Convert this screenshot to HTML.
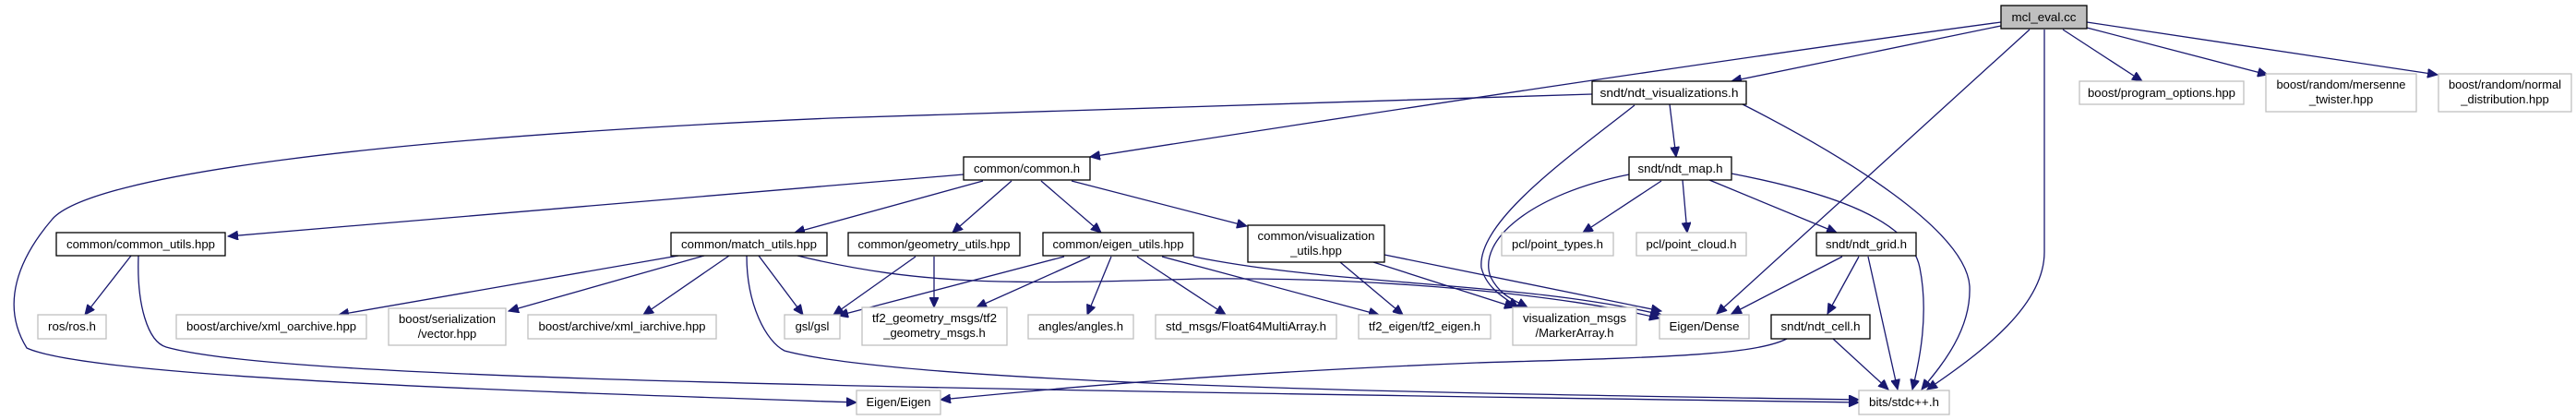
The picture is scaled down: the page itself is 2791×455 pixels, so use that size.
<!DOCTYPE html>
<html><head><meta charset="utf-8"><style>
html,body{margin:0;padding:0;background:#fff;}
svg{display:block;}
text{font-family:"Liberation Sans",Arial,sans-serif;font-size:13px;fill:#000;}
.e{fill:none;stroke:#191970;stroke-width:1.3;}
.d{fill:#fff;stroke:#000;stroke-width:1.3;}
.x{fill:#fff;stroke:#bfbfbf;stroke-width:1.3;}
</style></head><body>
<svg width="2791" height="455" viewBox="0 0 2791 455" xmlns="http://www.w3.org/2000/svg">
<defs>
<marker id="a" markerUnits="userSpaceOnUse" markerWidth="12" markerHeight="10" refX="11" refY="5" orient="auto">
<path d="M0,0 L11,5 L0,10 Z" fill="#191970" stroke="#191970"/>
</marker>
</defs>
<g marker-end="url(#a)">
<!-- mcl edges -->
<path class="e" d="M2168,28 L1876,88"/>
<path class="e" d="M2168,24 C1900,60 1500,120 1181,170"/>
<path class="e" d="M2199,32 L1860,340"/>
<path class="e" d="M2215,32 L2215,273 C2215,330 2150,380 2088,422"/>
<path class="e" d="M2235,32 L2321,88"/>
<path class="e" d="M2261,30 L2457,81"/>
<path class="e" d="M2261,24 L2641,81"/>
<!-- ndt_vis -->
<path class="e" d="M1725,102 L900,128 C400,150 100,190 57,237 C20,280 0,330 29,377 C100,410 600,425 928,436"/>
<path class="e" d="M1809,113 L1816,170"/>
<path class="e" d="M1771,114 C1700,170 1600,240 1605,290 C1610,310 1625,320 1645,333"/>
<path class="e" d="M1888,113 C2000,170 2130,250 2134,310 C2136,360 2100,400 2082,422"/>
<!-- ndt_map -->
<path class="e" d="M1765,189 C1660,210 1600,260 1615,300 C1625,320 1640,325 1655,333"/>
<path class="e" d="M1800,196 L1715,252"/>
<path class="e" d="M1823,195 L1828,252"/>
<path class="e" d="M1852,195 L1990,252"/>
<path class="e" d="M1876,188 C1990,210 2070,240 2080,290 C2090,340 2080,390 2072,422"/>
<!-- ndt_grid -->
<path class="e" d="M1996,278 L1876,340"/>
<path class="e" d="M2014,278 L1980,340"/>
<path class="e" d="M2024,278 L2056,422"/>
<!-- ndt_cell -->
<path class="e" d="M1986,367 L2046,422"/>
<path class="e" d="M1936,367 C1900,385 1800,387 1600,393 C1300,405 1100,425 1019,433"/>
<!-- common.h -->
<path class="e" d="M1044,189 L247,256"/>
<path class="e" d="M1065,196 L861,252"/>
<path class="e" d="M1096,196 L1032,252"/>
<path class="e" d="M1128,196 L1193,252"/>
<path class="e" d="M1161,196 L1351,245"/>
<!-- common_utils -->
<path class="e" d="M142,277 L92,341"/>
<path class="e" d="M150,277 C148,330 160,370 180,376 C300,410 900,420 2014,436"/>
<!-- match_utils -->
<path class="e" d="M735,277 L367,341"/>
<path class="e" d="M763,277 L551,337"/>
<path class="e" d="M790,277 L697,341"/>
<path class="e" d="M822,277 L870,341"/>
<path class="e" d="M809,277 C809,330 830,370 850,380 C1000,420 1700,428 2014,433"/>
<path class="e" d="M864,277 C1000,310 1100,308 1300,302 C1500,300 1700,320 1798,345"/>
<!-- geometry_utils -->
<path class="e" d="M992,278 L903,341"/>
<path class="e" d="M1012,278 L1012,333"/>
<!-- eigen_utils -->
<path class="e" d="M1153,278 L908,342"/>
<path class="e" d="M1181,278 L1058,333"/>
<path class="e" d="M1204,278 L1178,341"/>
<path class="e" d="M1232,278 L1328,341"/>
<path class="e" d="M1259,278 L1494,341"/>
<path class="e" d="M1293,278 C1450,310 1650,305 1800,341"/>
<!-- visualization_utils -->
<path class="e" d="M1452,284 L1520,341"/>
<path class="e" d="M1488,284 L1641,333"/>
<path class="e" d="M1500,276 L1800,337"/>
</g>
<!-- nodes -->
<rect x="2168" y="6" width="93" height="25" fill="#bfbfbf" stroke="#000" stroke-width="1.3"/>
<text x="2214.5" y="23" text-anchor="middle" textLength="70" lengthAdjust="spacingAndGlyphs">mcl_eval.cc</text>

<rect class="d" x="1725" y="88" width="167" height="25"/>
<text x="1808.5" y="105" text-anchor="middle" textLength="150" lengthAdjust="spacingAndGlyphs">sndt/ndt_visualizations.h</text>

<rect class="x" x="2253" y="88" width="178" height="25"/>
<text x="2342" y="105" text-anchor="middle" textLength="160" lengthAdjust="spacingAndGlyphs">boost/program_options.hpp</text>
<rect class="x" x="2455" y="80" width="163" height="41"/>
<text x="2536.5" y="96" text-anchor="middle" textLength="140" lengthAdjust="spacingAndGlyphs">boost/random/mersenne</text>
<text x="2536.5" y="112" text-anchor="middle">_twister.hpp</text>
<rect class="x" x="2642" y="80" width="144" height="41"/>
<text x="2714" y="96" text-anchor="middle" textLength="122" lengthAdjust="spacingAndGlyphs">boost/random/normal</text>
<text x="2714" y="112" text-anchor="middle">_distribution.hpp</text>

<rect class="d" x="1044" y="170" width="137" height="25"/>
<text x="1112.5" y="187" text-anchor="middle" textLength="115" lengthAdjust="spacingAndGlyphs">common/common.h</text>
<rect class="d" x="1765" y="170" width="111" height="25"/>
<text x="1820.5" y="187" text-anchor="middle" textLength="92" lengthAdjust="spacingAndGlyphs">sndt/ndt_map.h</text>

<rect class="d" x="61" y="252" width="183" height="25"/>
<text x="152.5" y="269" text-anchor="middle" textLength="161" lengthAdjust="spacingAndGlyphs">common/common_utils.hpp</text>
<rect class="d" x="727" y="252" width="169" height="25"/>
<text x="811.5" y="269" text-anchor="middle" textLength="147" lengthAdjust="spacingAndGlyphs">common/match_utils.hpp</text>
<rect class="d" x="919" y="252" width="186" height="25"/>
<text x="1012" y="269" text-anchor="middle" textLength="165" lengthAdjust="spacingAndGlyphs">common/geometry_utils.hpp</text>
<rect class="d" x="1130" y="252" width="163" height="25"/>
<text x="1211.5" y="269" text-anchor="middle" textLength="142" lengthAdjust="spacingAndGlyphs">common/eigen_utils.hpp</text>
<rect class="d" x="1352" y="244" width="148" height="40"/>
<text x="1426" y="260" text-anchor="middle" textLength="127" lengthAdjust="spacingAndGlyphs">common/visualization</text>
<text x="1426" y="276" text-anchor="middle">_utils.hpp</text>
<rect class="x" x="1627" y="252" width="121" height="25"/>
<text x="1687.5" y="269" text-anchor="middle" textLength="99" lengthAdjust="spacingAndGlyphs">pcl/point_types.h</text>
<rect class="x" x="1773" y="252" width="119" height="25"/>
<text x="1832.5" y="269" text-anchor="middle" textLength="98" lengthAdjust="spacingAndGlyphs">pcl/point_cloud.h</text>
<rect class="d" x="1968" y="252" width="108" height="25"/>
<text x="2022" y="269" text-anchor="middle" textLength="88" lengthAdjust="spacingAndGlyphs">sndt/ndt_grid.h</text>

<rect class="x" x="41" y="341" width="74" height="26"/>
<text x="78" y="358" text-anchor="middle" textLength="52" lengthAdjust="spacingAndGlyphs">ros/ros.h</text>
<rect class="x" x="191" y="341" width="206" height="26"/>
<text x="294" y="358" text-anchor="middle" textLength="184" lengthAdjust="spacingAndGlyphs">boost/archive/xml_oarchive.hpp</text>
<rect class="x" x="421" y="334" width="127" height="40"/>
<text x="484.5" y="350" text-anchor="middle" textLength="105" lengthAdjust="spacingAndGlyphs">boost/serialization</text>
<text x="484.5" y="366" text-anchor="middle">/vector.hpp</text>
<rect class="x" x="572" y="341" width="204" height="26"/>
<text x="674" y="358" text-anchor="middle" textLength="181" lengthAdjust="spacingAndGlyphs">boost/archive/xml_iarchive.hpp</text>
<rect class="x" x="850" y="341" width="60" height="26"/>
<text x="880" y="358" text-anchor="middle">gsl/gsl</text>
<rect class="x" x="934" y="333" width="157" height="41"/>
<text x="1012.5" y="349" text-anchor="middle" textLength="135" lengthAdjust="spacingAndGlyphs">tf2_geometry_msgs/tf2</text>
<text x="1012.5" y="365" text-anchor="middle">_geometry_msgs.h</text>
<rect class="x" x="1114" y="341" width="114" height="26"/>
<text x="1171" y="358" text-anchor="middle" textLength="92" lengthAdjust="spacingAndGlyphs">angles/angles.h</text>
<rect class="x" x="1252" y="341" width="196" height="26"/>
<text x="1350" y="358" text-anchor="middle" textLength="174" lengthAdjust="spacingAndGlyphs">std_msgs/Float64MultiArray.h</text>
<rect class="x" x="1472" y="341" width="143" height="26"/>
<text x="1543.5" y="358" text-anchor="middle" textLength="121" lengthAdjust="spacingAndGlyphs">tf2_eigen/tf2_eigen.h</text>
<rect class="x" x="1639" y="333" width="134" height="41"/>
<text x="1706" y="349" text-anchor="middle" textLength="112" lengthAdjust="spacingAndGlyphs">visualization_msgs</text>
<text x="1706" y="365" text-anchor="middle">/MarkerArray.h</text>
<rect class="x" x="1798" y="341" width="97" height="26"/>
<text x="1846.5" y="358" text-anchor="middle" textLength="76" lengthAdjust="spacingAndGlyphs">Eigen/Dense</text>
<rect class="d" x="1919" y="341" width="107" height="26"/>
<text x="1972.5" y="358" text-anchor="middle" textLength="86" lengthAdjust="spacingAndGlyphs">sndt/ndt_cell.h</text>

<rect class="x" x="928" y="423" width="91" height="26"/>
<text x="973.5" y="440" text-anchor="middle" textLength="70" lengthAdjust="spacingAndGlyphs">Eigen/Eigen</text>
<rect class="x" x="2014" y="423" width="98" height="26"/>
<text x="2063" y="440" text-anchor="middle" textLength="76" lengthAdjust="spacingAndGlyphs">bits/stdc++.h</text>
</svg>
</body></html>
